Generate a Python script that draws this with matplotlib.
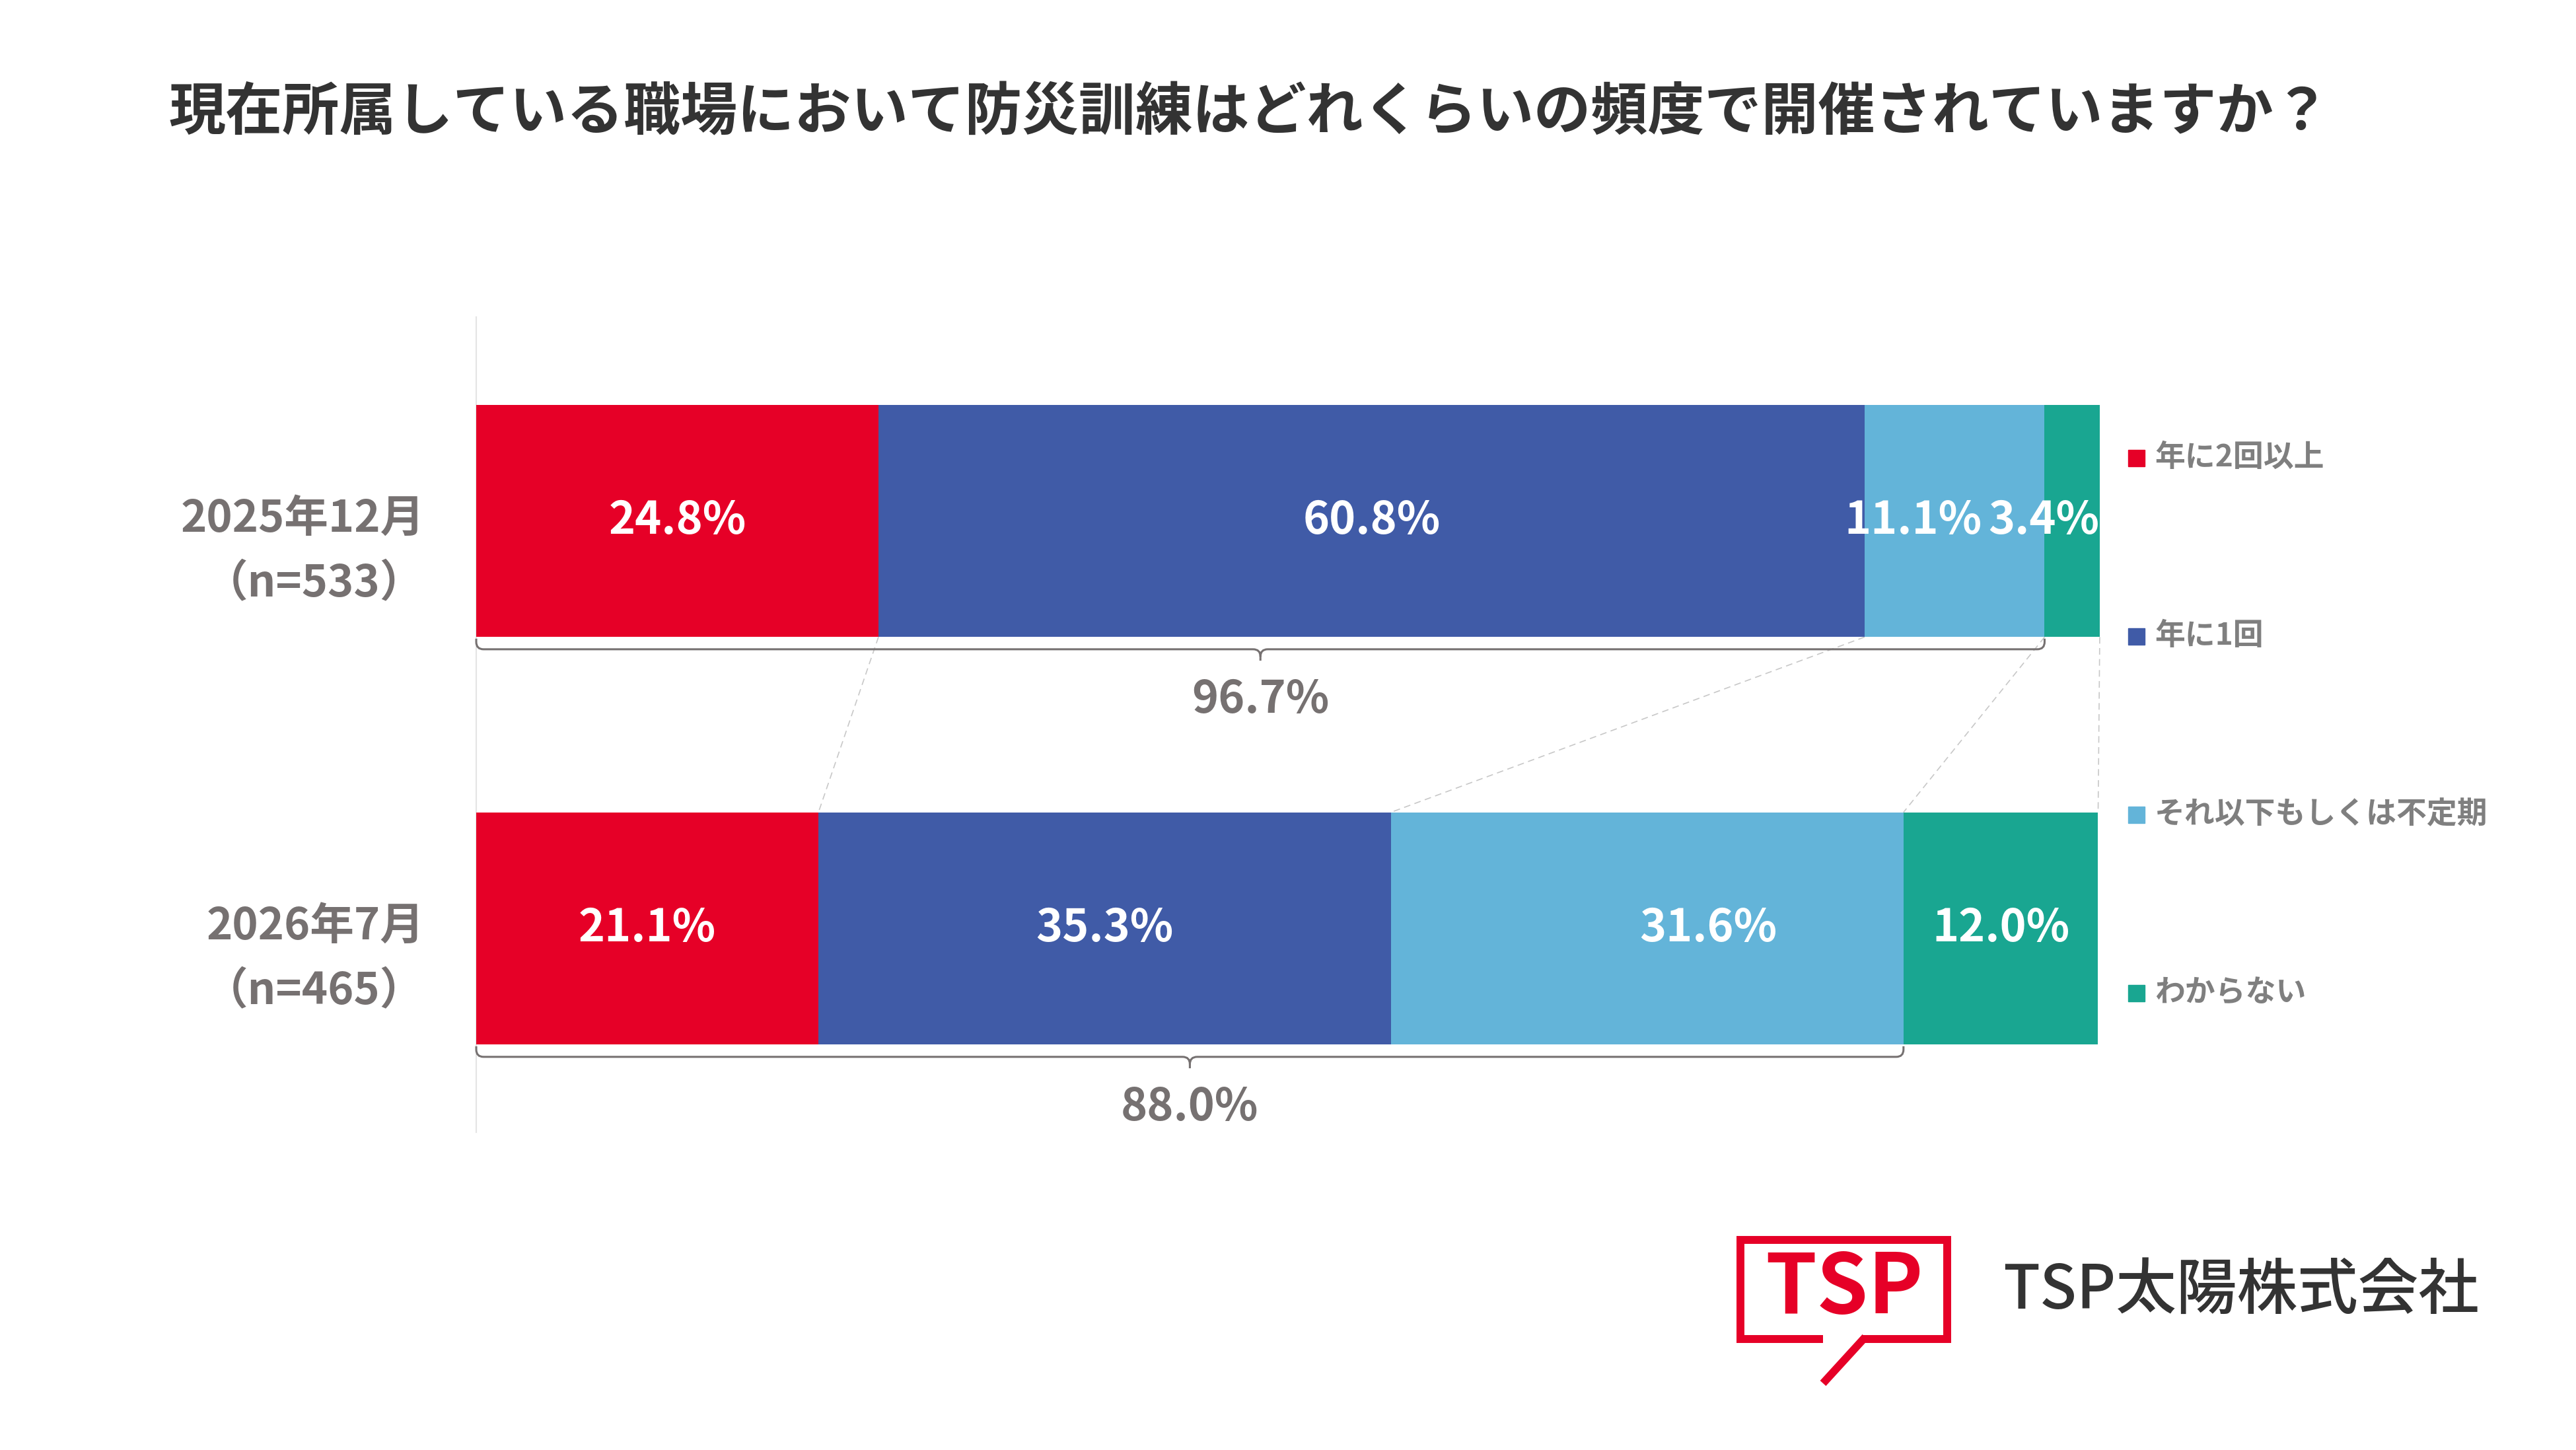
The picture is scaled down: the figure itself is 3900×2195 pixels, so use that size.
import numpy as np
import matplotlib
matplotlib.use("Agg")
import matplotlib.pyplot as plt
from matplotlib.path import Path
from matplotlib.patches import PathPatch, Rectangle
from matplotlib.lines import Line2D

plt.rcParams['font.family'] = ['Noto Sans CJK JP', 'DejaVu Sans']

title = '現在所属している職場において防災訓練はどれくらいの頻度で開催されていますか？'
periods = ['2025年12月', '2026年7月']
sample_n = [533, 465]
categories = ['年に2回以上', '年に1回', 'それ以下もしくは不定期', 'わからない']
dec_2025 = [24.8, 60.8, 11.1, 3.4]
jul_2026 = [21.1, 35.3, 31.6, 12.0]
colors = ['#E60027', '#405BA7', '#63B4D9', '#19A691']

# label nudges (in % units) so the small labels don't collide
label_shift = [[0, 0, -2.55, -1.75], [0, 0, 3.75, 0]]

GREY = '#767171'
W, H = 3900, 2195

# plot box in pixels
X0, X1 = 721, 3176.5
Y0, Y1 = 480, 1714

fig = plt.figure(figsize=(W / 100, H / 100), dpi=100)
bg = fig.add_axes([0, 0, 1, 1])
bg.set_xlim(0, W)
bg.set_ylim(H, 0)
bg.axis('off')

# title
bg.text(256, 171, title, fontsize=62, fontweight='bold', color='#333333',
        ha='left', va='center')

ax = fig.add_axes([X0 / W, (H - Y1) / H, (X1 - X0) / W, (Y1 - Y0) / H])
ax.set_facecolor('none')
ax.set_xlim(0, 100)
ax.set_ylim(1.5, -0.5)
for s in ['top', 'right', 'bottom']:
    ax.spines[s].set_visible(False)
ax.spines['left'].set_color('#e4e4e4')
ax.spines['left'].set_linewidth(1.5)
ax.set_xticks([])
ax.set_yticks([])

pxu = (X1 - X0) / 100.0


def px2x(p):
    return (p - X0) / pxu


vals = np.array([dec_2025, jul_2026])
ypos = np.arange(len(periods))
bh = 0.57
lefts = np.zeros(len(periods))
for j, cat in enumerate(categories):
    ax.barh(ypos, vals[:, j], left=lefts, height=bh, color=colors[j],
            clip_on=False, zorder=3)
    for i in range(len(periods)):
        xc = lefts[i] + vals[i, j] / 2 + label_shift[i][j]
        ax.text(xc, ypos[i], f'{vals[i, j]:.1f}%', color='white', fontsize=49,
                fontweight='bold', ha='center', va='center', zorder=5)
    lefts = lefts + vals[:, j]

# dashed connectors between the segment edges of the two bars
cum = np.cumsum(vals, axis=1)
for k in range(len(categories)):
    ax.plot([cum[0, k], cum[1, k]], [ypos[0] + bh / 2, ypos[1] - bh / 2],
            color='#c8c8c8', lw=1.2, ls=(0, (6, 4)), zorder=1, clip_on=False)

# period labels
for i in range(len(periods)):
    ax.text(px2x(643), ypos[i] - 0.006, periods[i], fontsize=48,
            fontweight='bold', color=GREY, ha='right', va='center',
            clip_on=False)
    ax.text(px2x(475), ypos[i] + 0.155, f'（n={sample_n[i]}）', fontsize=48,
            fontweight='bold', color=GREY, ha='center', va='center',
            clip_on=False)


def brace(ax, x0, x1, ytop, color=GREY):
    rx, ry = 0.45, 0.018
    yl = ytop + 0.03
    tip = yl + 0.028
    xm = (x0 + x1) / 2
    verts = [(x0, ytop + 0.004), (x0, yl - ry), (x0, yl), (x0 + rx, yl),
             (xm - rx, yl), (xm, yl), (xm, yl + ry), (xm, tip),
             (xm, yl + ry), (xm, yl), (xm + rx, yl),
             (x1 - rx, yl), (x1, yl), (x1, yl - ry), (x1, ytop + 0.004)]
    codes = [Path.MOVETO, Path.LINETO, Path.CURVE3, Path.CURVE3,
             Path.LINETO, Path.CURVE3, Path.CURVE3, Path.LINETO,
             Path.MOVETO, Path.CURVE3, Path.CURVE3,
             Path.LINETO, Path.CURVE3, Path.CURVE3, Path.LINETO]
    ax.add_patch(PathPatch(Path(verts, codes), fill=False, ec=color, lw=2.2,
                           clip_on=False, zorder=4))


# "at least once a year" totals under each bar
for i in range(len(periods)):
    tot = vals[i, :3].sum()
    brace(ax, 0, tot, ypos[i] + bh / 2)
    ax.text(tot / 2, ypos[i] + bh / 2 + 0.154, f'{tot:.1f}%', fontsize=49,
            fontweight='bold', color=GREY, ha='center', va='center',
            clip_on=False)

# legend
for j, cat in enumerate(categories):
    yc = 693 + 270 * j
    bg.add_patch(Rectangle((3222, yc - 12.5), 25, 25, color=colors[j]))
    bg.text(3262, yc, cat, fontsize=33, fontweight='bold', color='#7f7f7f',
            ha='left', va='center')

# logo
red = '#E60027'
bg.add_line(Line2D([2760, 2635, 2635, 2948, 2948, 2820],
                   [2027, 2027, 1877, 1877, 2027, 2027],
                   color=red, lw=8.6, solid_joinstyle='miter',
                   solid_capstyle='butt'))
bg.add_line(Line2D([2824, 2760], [2024, 2094], color=red, lw=8.6,
                   solid_capstyle='butt'))
bg.text(2792, 1951, 'TSP', fontsize=90, fontweight='bold', color=red,
        ha='center', va='center')
bg.text(3032, 1955, 'TSP太陽株式会社', fontsize=66, fontweight='medium',
        color='#333333', ha='left', va='center')

fig.savefig('out.png', dpi=100, facecolor='white')
